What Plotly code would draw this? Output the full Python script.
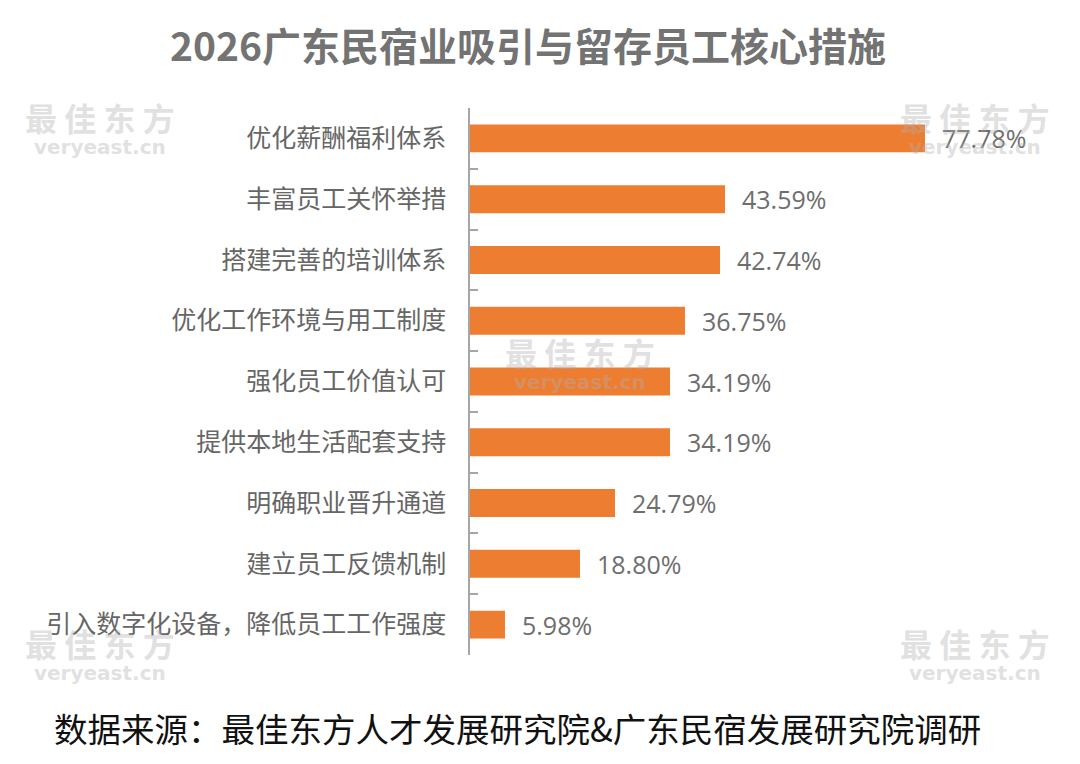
import plotly.graph_objects as go

categories = ["优化薪酬福利体系", "丰富员工关怀举措", "搭建完善的培训体系", "优化工作环境与用工制度",
              "强化员工价值认可", "提供本地生活配套支持", "明确职业晋升通道", "建立员工反馈机制",
              "引入数字化设备，降低员工工作强度"]
values = [77.78, 43.59, 42.74, 36.75, 34.19, 34.19, 24.79, 18.80, 5.98]
value_labels = [f"{v:.2f}%" for v in values]

title_text = "2026广东民宿业吸引与留存员工核心措施"
source_text = "数据来源：最佳东方人才发展研究院&广东民宿发展研究院调研"

FONT = "Noto Sans CJK SC, Noto Sans, sans-serif"
L, R, T, B = 470, 25, 108, 109

fig = go.Figure()
fig.add_trace(go.Bar(
    x=values, y=categories, orientation="h",
    marker=dict(color="#ED7D31", line=dict(width=0)),
    hoverinfo="x+y",
))

for v, lab, cat in zip(values, value_labels, categories):
    fig.add_annotation(x=v, y=cat, xref="x", yref="y", text=lab, showarrow=False,
                       xanchor="left", yanchor="middle", xshift=15,
                       font=dict(size=25, color="#6e6e6e", family="Open Sans, sans-serif"))

fig.update_layout(
    width=1080, height=764,
    margin=dict(l=L, r=R, t=T, b=B),
    paper_bgcolor="white", plot_bgcolor="white",
    bargap=0.54, showlegend=False,
    font=dict(family=FONT),
    xaxis=dict(range=[0, 100], visible=False, fixedrange=True),
    yaxis=dict(autorange="reversed", type="category", showline=True, linecolor="#a6a6a6", linewidth=1.5,
               ticks="inside", tickson="boundaries", ticklen=8, tickcolor="#a6a6a6", tickwidth=1.5,
               tickfont=dict(size=25, color="#666666", family=FONT), ticklabelstandoff=17,
               showgrid=False, zeroline=False),
)

fig.add_annotation(text=title_text, xref="paper", yref="paper", x=0, y=1, xanchor="center", yanchor="middle",
                   xshift=528 - L, yshift=(T - 44),
                   showarrow=False, font=dict(size=39, color="#737373", family=FONT, weight="bold"))
fig.add_annotation(text=source_text, xref="paper", yref="paper", x=0, y=0, xanchor="left", yanchor="middle",
                   xshift=52 - L, yshift=-(727 - (764 - B)),
                   showarrow=False, font=dict(size=33.5, color="#111111", family=FONT))

# watermarks
wm = [(100, 117), (975, 117), (580, 352), (100, 643), (975, 643)]
for (cx, cy) in wm:
    fig.add_annotation(text="最 佳 东 方", xref="paper", yref="paper", x=0, y=1, xanchor="center", yanchor="middle",
                       xshift=cx - L, yshift=T - cy, showarrow=False,
                       font=dict(size=32, color="rgba(175,175,175,0.4)", family=FONT, weight="bold"))
    fig.add_annotation(text="veryeast.cn", xref="paper", yref="paper", x=0, y=1, xanchor="center", yanchor="middle",
                       xshift=cx - L, yshift=T - (cy + 30), showarrow=False,
                       font=dict(size=20, color="rgba(175,175,175,0.4)", family="DejaVu Sans", weight="bold"))

fig.write_html("out.html")
